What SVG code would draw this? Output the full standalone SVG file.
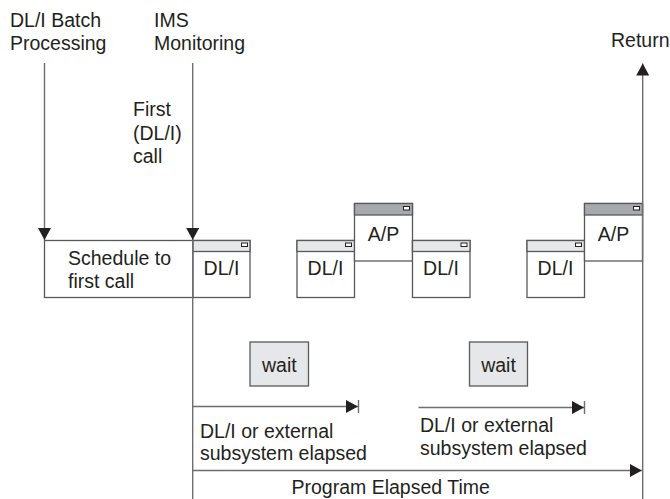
<svg xmlns="http://www.w3.org/2000/svg" width="670" height="499" viewBox="0 0 670 499">
<style>
text{font-family:"Liberation Sans",Arial,sans-serif;font-size:19.5px;fill:#231f20}
.ln{stroke:#6d6e71;stroke-width:1.4;fill:none}
.bx{fill:#fff;stroke:#58595b;stroke-width:1.3}
.tb{fill:#e6e7e8;stroke:#58595b;stroke-width:1.3}
.tbd{fill:#a7a9ac;stroke:#58595b;stroke-width:1.3}
.btn{fill:#fff;stroke:#231f20;stroke-width:1}
.wt{fill:#e6e7e8;stroke:#58595b;stroke-width:1.3}
.c{text-anchor:middle}
</style>
<defs>
<marker id="arr" markerUnits="userSpaceOnUse" markerWidth="14" markerHeight="14" refX="12" refY="6.5" orient="auto">
<path d="M0,0 L12,6.5 L0,13 Z" fill="#231f20"/>
</marker>
</defs>

<g id="labels">
<text x="10" y="27">DL/I Batch</text>
<text x="10" y="50">Processing</text>
<text x="154" y="27">IMS</text>
<text x="154" y="50">Monitoring</text>
<text x="611" y="46.5">Return</text>
<text x="133" y="116">First</text>
<text x="133" y="139.5">(DL/I)</text>
<text x="133" y="163">call</text>
</g>

<g id="schedule">
<rect class="bx" x="44.5" y="240.5" width="148.5" height="57"/>
<text x="68" y="265">Schedule to</text>
<text x="68" y="288">first call</text>
</g>

<g id="dli1">
<rect class="bx" x="193" y="240.5" width="57" height="57"/>
<rect class="tb" x="193" y="240.5" width="57" height="11"/>
<rect class="btn" x="241.5" y="243" width="6" height="3.5"/>
<text class="c" x="221.5" y="275">DL/I</text>
</g>

<g id="dli2">
<rect class="bx" x="297" y="240.5" width="57.5" height="57"/>
<rect class="tb" x="297" y="240.5" width="57.5" height="11"/>
<rect class="btn" x="345.5" y="243" width="6" height="3.5"/>
<text class="c" x="325.5" y="275">DL/I</text>
</g>

<g id="ap1">
<rect class="bx" x="354.5" y="203.5" width="58" height="57.5"/>
<rect class="tbd" x="354.5" y="203.5" width="58" height="11.5"/>
<rect class="btn" x="403.5" y="206.5" width="6" height="3.5"/>
<text class="c" x="383.5" y="241">A/P</text>
</g>

<g id="dli3">
<rect class="bx" x="412.5" y="240.5" width="57.5" height="57"/>
<rect class="tb" x="412.5" y="240.5" width="57.5" height="11"/>
<rect class="btn" x="461" y="243" width="6" height="3.5"/>
<text class="c" x="441" y="275">DL/I</text>
</g>

<g id="dli4">
<rect class="bx" x="527" y="240.5" width="57.5" height="57"/>
<rect class="tb" x="527" y="240.5" width="57.5" height="11"/>
<rect class="btn" x="575.5" y="243" width="6" height="3.5"/>
<text class="c" x="555.5" y="275">DL/I</text>
</g>

<g id="ap2">
<rect class="bx" x="584.5" y="203.5" width="58" height="57.5"/>
<rect class="tbd" x="584.5" y="203.5" width="58" height="11.5"/>
<rect class="btn" x="633.5" y="206.5" width="6" height="3.5"/>
<text class="c" x="613.5" y="241">A/P</text>
</g>

<g id="wait1">
<rect class="wt" x="250" y="342" width="58.5" height="44"/>
<text class="c" x="279.3" y="371.5">wait</text>
</g>

<g id="wait2">
<rect class="wt" x="469.5" y="342" width="58" height="44"/>
<text class="c" x="498.5" y="371.5">wait</text>
</g>

<g id="elapsed-labels">
<text x="200" y="437.5">DL/I or external</text>
<text x="200" y="460">subsystem elapsed</text>
<text x="420" y="431.5">DL/I or external</text>
<text x="420" y="454.5">subsystem elapsed</text>
<text x="291.5" y="494">Program Elapsed Time</text>
</g>

<g id="connectors">
<line class="ln" x1="44.5" y1="63" x2="44.5" y2="240" marker-end="url(#arr)"/>
<line class="ln" x1="192.7" y1="63" x2="192.7" y2="240" marker-end="url(#arr)"/>
<line class="ln" x1="192.7" y1="240" x2="192.7" y2="499"/>
<line class="ln" x1="642.7" y1="499" x2="642.7" y2="63.5" marker-end="url(#arr)"/>
<line class="ln" x1="193" y1="470.5" x2="641.8" y2="470.5" marker-end="url(#arr)"/>
<line class="ln" x1="193" y1="406.5" x2="358" y2="406.5" marker-end="url(#arr)"/>
<line class="ln" x1="358.5" y1="400" x2="358.5" y2="413"/>
<line class="ln" x1="418.5" y1="407.5" x2="584" y2="407.5" marker-end="url(#arr)"/>
<line class="ln" x1="584.5" y1="401" x2="584.5" y2="414"/>
</g>
</svg>
